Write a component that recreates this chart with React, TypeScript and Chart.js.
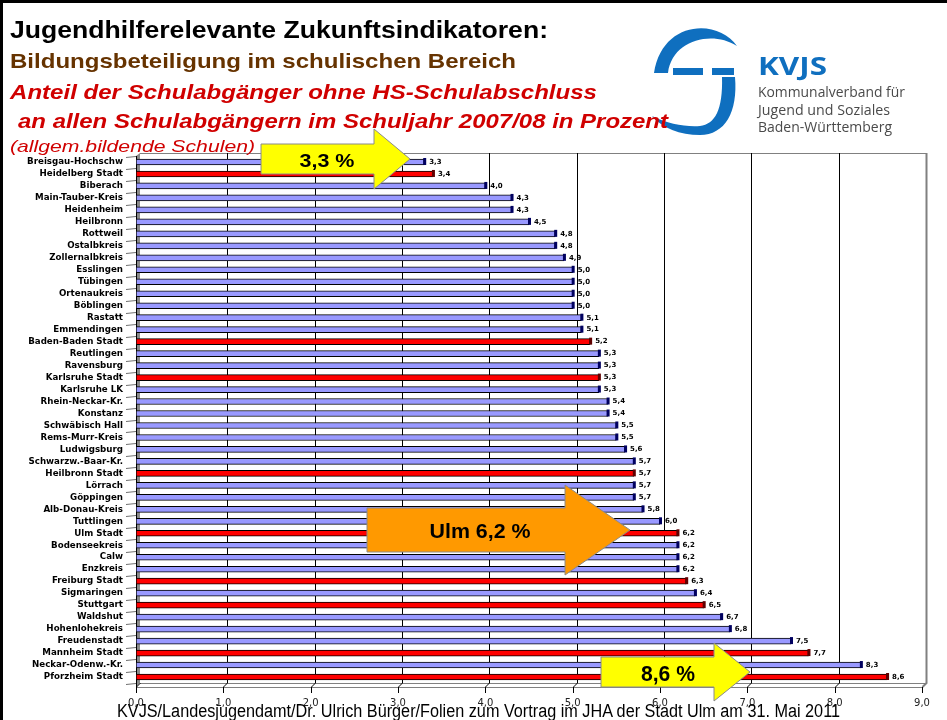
import React, { useEffect, useRef } from 'react';
import { Chart, registerables } from 'chart.js';

Chart.register(...registerables);

const categories = [
  'Breisgau-Hochschw', 'Heidelberg Stadt', 'Biberach', 'Main-Tauber-Kreis', 'Heidenheim', 'Heilbronn',
  'Rottweil', 'Ostalbkreis', 'Zollernalbkreis', 'Esslingen', 'Tübingen', 'Ortenaukreis', 'Böblingen',
  'Rastatt', 'Emmendingen', 'Baden-Baden Stadt', 'Reutlingen', 'Ravensburg', 'Karlsruhe Stadt',
  'Karlsruhe LK', 'Rhein-Neckar-Kr.', 'Konstanz', 'Schwäbisch Hall', 'Rems-Murr-Kreis', 'Ludwigsburg',
  'Schwarzw.-Baar-Kr.', 'Heilbronn Stadt', 'Lörrach', 'Göppingen', 'Alb-Donau-Kreis', 'Tuttlingen',
  'Ulm Stadt', 'Bodenseekreis', 'Calw', 'Enzkreis', 'Freiburg Stadt', 'Sigmaringen', 'Stuttgart',
  'Waldshut', 'Hohenlohekreis', 'Freudenstadt', 'Mannheim Stadt', 'Neckar-Odenw.-Kr.', 'Pforzheim Stadt',
];

const values = [
  3.3, 3.4, 4.0, 4.3, 4.3, 4.5, 4.8, 4.8, 4.9, 5.0, 5.0, 5.0, 5.0, 5.1, 5.1, 5.2, 5.3, 5.3, 5.3, 5.3,
  5.4, 5.4, 5.5, 5.5, 5.6, 5.7, 5.7, 5.7, 5.7, 5.8, 6.0, 6.2, 6.2, 6.2, 6.2, 6.3, 6.4, 6.5, 6.7, 6.8,
  7.5, 7.7, 8.3, 8.6,
];

const cityDistricts = [
  'Heidelberg Stadt', 'Baden-Baden Stadt', 'Karlsruhe Stadt', 'Heilbronn Stadt', 'Ulm Stadt',
  'Freiburg Stadt', 'Stuttgart', 'Mannheim Stadt', 'Pforzheim Stadt',
];

const xTickValues = [0, 1, 2, 3, 4, 5, 6, 7, 8, 9];

const BLUE = '#9999FF';
const RED = '#FF0000';

const fmt = (v: number) => v.toFixed(1).replace('.', ',');

const framePlugin = {
  id: 'frame3d',
  beforeDatasetsDraw(chart: any) {
    const { ctx, chartArea: a, scales } = chart;
    const x = scales.x;
    const y = scales.y;
    const dx = 4;
    const dy = 3;
    ctx.save();
    // left wall
    ctx.fillStyle = '#8a8a8a';
    ctx.beginPath();
    ctx.moveTo(a.left, a.top);
    ctx.lineTo(a.left + dx, a.top - dy);
    ctx.lineTo(a.left + dx, a.bottom);
    ctx.lineTo(a.left, a.bottom + dx);
    ctx.closePath();
    ctx.fill();
    ctx.strokeStyle = '#000';
    ctx.lineWidth = 1;
    ctx.beginPath();
    ctx.moveTo(a.left + 0.5, a.top);
    ctx.lineTo(a.left + 0.5, a.bottom + dx);
    ctx.stroke();
    // top edge & floor
    ctx.strokeStyle = '#808080';
    ctx.beginPath();
    ctx.moveTo(a.left + dx, a.top - dy + 0.5);
    ctx.lineTo(a.right + dx, a.top - dy + 0.5);
    ctx.moveTo(a.left + dx, a.bottom + 0.5);
    ctx.lineTo(a.right + dx, a.bottom + 0.5);
    ctx.moveTo(a.left, a.bottom + dx + 0.5);
    ctx.lineTo(a.right, a.bottom + dx + 0.5);
    ctx.stroke();
    // grid lines (back plane) + ticks
    xTickValues.forEach((v) => {
      const px = Math.round(x.getPixelForValue(v)) + 0.5;
      ctx.strokeStyle = v === 9 ? '#808080' : '#000';
      ctx.lineWidth = v === 9 ? 2 : 1;
      ctx.beginPath();
      if (v > 0) {
        ctx.moveTo(px + dx, a.top - dy);
        ctx.lineTo(px + dx, a.bottom);
      } else {
        ctx.moveTo(px + dx, a.bottom);
      }
      ctx.lineTo(px, a.bottom + dx);
      ctx.stroke();
      ctx.strokeStyle = '#000';
      ctx.lineWidth = 1;
      ctx.beginPath();
      ctx.moveTo(px, a.bottom + dx);
      ctx.lineTo(px, a.bottom + 10);
      ctx.stroke();
    });
    // category tick marks on the left
    ctx.strokeStyle = '#707070';
    ctx.lineWidth = 1;
    const n = categories.length;
    for (let i = 0; i <= n; i++) {
      let yb: number;
      if (i === 0) yb = a.top;
      else if (i === n) yb = a.bottom;
      else yb = (y.getPixelForValue(i - 1) + y.getPixelForValue(i)) / 2;
      yb = Math.round(yb) + 0.5;
      ctx.beginPath();
      ctx.moveTo(a.left - 10, yb + 1);
      ctx.lineTo(a.left, yb);
      ctx.stroke();
    }
    ctx.restore();
  },
  afterDatasetsDraw(chart: any) {
    const { ctx } = chart;
    const meta = chart.getDatasetMeta(0);
    ctx.save();
    meta.data.forEach((el: any, i: number) => {
      const city = cityDistricts.includes(categories[i]);
      // 3D end cap
      ctx.fillStyle = city ? '#600000' : '#000060';
      ctx.fillRect(el.x - 1, el.y - el.height / 2 - 1, 3, el.height + 1);
      // value label
      ctx.fillStyle = '#000';
      ctx.font = 'bold 7px "DejaVu Sans"';
      ctx.textAlign = 'left';
      ctx.textBaseline = 'middle';
      ctx.fillText(fmt(values[i]), el.x + 5, el.y);
    });
    ctx.restore();
  },
};

type TProps = {
  x: number; y: number; size: number; len?: number; fill?: string; weight?: string;
  italic?: boolean; family?: string; anchor?: string; children: React.ReactNode;
};

const T = ({ x, y, size, len, fill = '#000', weight = 'bold', italic = false,
  family = '"Liberation Sans", Arial, sans-serif', anchor = 'start', children }: TProps) => (
  <text
    x={x}
    y={y}
    fontSize={size}
    fontWeight={weight}
    fontStyle={italic ? 'italic' : 'normal'}
    fontFamily={family}
    fill={fill}
    textAnchor={anchor}
    textLength={len}
    lengthAdjust={len ? 'spacingAndGlyphs' : undefined}
  >
    {children}
  </text>
);

export default function App() {
  const ref = useRef<HTMLCanvasElement>(null);

  useEffect(() => {
    const chart = new Chart(ref.current as HTMLCanvasElement, {
      type: 'bar',
      data: {
        labels: categories,
        datasets: [
          {
            data: values,
            backgroundColor: categories.map((c) => (cityDistricts.includes(c) ? RED : BLUE)),
            borderColor: '#000',
            borderWidth: 1,
            borderSkipped: false,
            barThickness: 6,
          } as any,
        ],
      },
      options: {
        indexAxis: 'y',
        responsive: false,
        animation: false,
        devicePixelRatio: 1,
        layout: { padding: { top: 156, left: 0, right: 25, bottom: 0 } },
        plugins: {
          legend: { display: false },
          tooltip: { enabled: false },
        },
        scales: {
          x: {
            min: 0,
            max: 9,
            grid: { display: false },
            border: { display: false },
            afterFit: (s: any) => { s.height = 37; },
            ticks: {
              stepSize: 1,
              padding: 6,
              color: '#222',
              font: { family: '"DejaVu Sans"', size: 10 },
              callback: (v: any) => fmt(Number(v)),
            },
          },
          y: {
            grid: { display: false },
            border: { display: false },
            afterFit: (s: any) => { s.width = 136; },
            ticks: {
              autoSkip: false,
              padding: 5,
              color: '#000',
              font: { family: '"DejaVu Sans"', size: 8.7, weight: 'bold' },
            },
          },
        },
      },
      plugins: [framePlugin],
    } as any);
    return () => chart.destroy();
  }, []);

  const red = '#D00000';

  return (
    <div style={{ position: 'absolute', left: 0, top: 0, width: 947, height: 720, background: '#fff', overflow: 'hidden' }}>
      <canvas ref={ref} width={947} height={720} style={{ position: 'absolute', left: 0, top: 0 }} />
      <svg width={947} height={720} style={{ position: 'absolute', left: 0, top: 0, pointerEvents: 'none' }}>
        {/* slide frame */}
        <rect x={0} y={0} width={947} height={3} fill="#000" />
        <rect x={0} y={0} width={3} height={720} fill="#000" />

        {/* logo */}
        <g fill="#0f6fbf">
          <path d="M 737 46 C 718 18, 662 20, 654 73 L 668 73 C 672 40, 712 30, 737 46 Z" />
          <rect x={673} y={68} width={30} height={7} />
          <rect x={712} y={68} width={22} height={7} />
          <path d="M 722 77 L 735 77 C 738 112, 725 135, 700 135 C 680 135, 662 128, 652 116 C 668 124, 685 127, 700 126 C 715 124, 723 110, 722 77 Z" />
        </g>
        <T x={758} y={75} size={25} len={69} fill="#0f6fbf" family='"Open Sans", "DejaVu Sans", sans-serif'>KVJS</T>
        <T x={758} y={97} size={14} len={147} fill="#4a4a4a" weight="normal" family='"Open Sans", "DejaVu Sans", sans-serif'>Kommunalverband für</T>
        <T x={758} y={115} size={14} len={132} fill="#4a4a4a" weight="normal" family='"Open Sans", "DejaVu Sans", sans-serif'>Jugend und Soziales</T>
        <T x={758} y={132} size={14} len={134} fill="#4a4a4a" weight="normal" family='"Open Sans", "DejaVu Sans", sans-serif'>Baden-Württemberg</T>

        {/* titles */}
        <T x={10} y={38} size={23} len={538}>Jugendhilferelevante Zukunftsindikatoren:</T>
        <T x={10} y={68} size={21} len={506} fill="#663300">Bildungsbeteiligung im schulischen Bereich</T>
        <T x={10} y={99} size={21} len={587} fill={red} italic>Anteil der Schulabgänger ohne HS-Schulabschluss</T>
        <T x={18} y={128} size={21} len={650} fill={red} italic>an allen Schulabgängern im Schuljahr 2007/08 in Prozent</T>
        <T x={10} y={152} size={17} len={245} fill={red} weight="normal" italic>(allgem.bildende Schulen)</T>

        {/* callout arrows */}
        <polygon points="261,144 374,144 374,129 410,159 374,189 374,174 261,174" fill="#FFFF00" stroke="#8a8a8a" strokeWidth={1} />
        <T x={327} y={167} size={19} len={55} anchor="middle">3,3 %</T>

        <polygon points="367,508 565,508 565,485 630,530 565,575 565,552 367,552" fill="#FF9900" stroke="#8a8a8a" strokeWidth={1} />
        <T x={480} y={538} size={21} len={101} anchor="middle">Ulm 6,2 %</T>

        <polygon points="601,657 714,657 714,643 750,672 714,701 714,687 601,687" fill="#FFFF00" stroke="#8a8a8a" strokeWidth={1} />
        <T x={668} y={681} size={22} len={54} anchor="middle">8,6 %</T>

        {/* footer */}
        <T x={117} y={717} size={18} len={723} weight="normal" family='"Liberation Sans Narrow", "Liberation Sans", Arial, sans-serif'>
          KVJS/Landesjugendamt/Dr. Ulrich Bürger/Folien zum Vortrag im JHA der Stadt Ulm am 31. Mai 2011
        </T>
      </svg>
    </div>
  );
}
